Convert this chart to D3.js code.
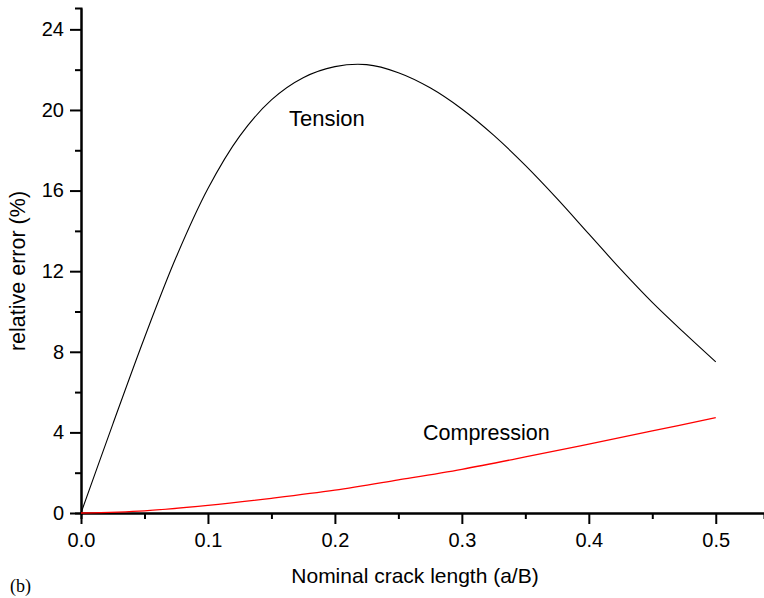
<!DOCTYPE html>
<html>
<head>
<meta charset="utf-8">
<script src="https://cdn.jsdelivr.net/npm/d3@7"></script>
<style>
  body { margin: 0; background: #fff; }
  text { font-family: "Liberation Sans", Arial, sans-serif; }
</style>
</head>
<body>
<div id="chart"></div>
<script>
// crack length a/B
const crackTension = [0, 0.025, 0.05, 0.075, 0.1, 0.125, 0.15, 0.175, 0.2, 0.225, 0.25,
                      0.275, 0.3, 0.325, 0.35, 0.375, 0.4, 0.425, 0.45, 0.475, 0.5];
const errTension = [0, 4.4, 8.7, 12.7, 16.1, 18.7, 20.5, 21.6, 22.15, 22.25, 21.85,
                    21.1, 20.05, 18.75, 17.25, 15.6, 13.85, 12.1, 10.45, 8.95, 7.5];

const crackCompression = [0, 0.05, 0.1, 0.15, 0.2, 0.25, 0.3, 0.35, 0.4, 0.45, 0.5];
const errCompression = [0, 0.11, 0.38, 0.73, 1.13, 1.64, 2.17, 2.78, 3.42, 4.07, 4.73];

const xMajor = [0, 0.1, 0.2, 0.3, 0.4, 0.5];
const xMinor = [0.05, 0.15, 0.25, 0.35, 0.45];
const yMajor = [0, 4, 8, 12, 16, 20, 24];
const yMinor = [2, 6, 10, 14, 18, 22];

const width = 764, height = 598;

const svg = d3.select("#chart")
              .append("svg")
              .attr("width", width)
              .attr("height", height);

const x = d3.scaleLinear()
            .domain([0, 0.538])
            .range([81, 764]);

const y = d3.scaleLinear()
            .domain([0, 25.06])
            .range([513, 8]);

// minor ticks first, no labels
svg.append("g")
   .attr("transform", `translate(0,${y(0)})`)
   .call(d3.axisBottom(x).tickValues(xMinor).tickSize(6).tickFormat(""));

svg.append("g")
   .attr("transform", `translate(${x(0)},0)`)
   .call(d3.axisLeft(y).tickValues(yMinor).tickSize(6).tickFormat(""));

svg.append("g")
   .attr("transform", `translate(0,${y(0)})`)
   .call(d3.axisBottom(x).tickValues(xMajor).tickSize(11).tickSizeOuter(0)
           .tickPadding(9).tickFormat(d3.format(".1f")));

svg.append("g")
   .attr("transform", `translate(${x(0)},0)`)
   .call(d3.axisLeft(y).tickValues(yMajor).tickSize(11).tickSizeOuter(0)
           .tickPadding(6).tickFormat(d3.format("d")));

svg.selectAll(".domain, .tick line")
   .attr("stroke", "#000")
   .attr("stroke-width", 2);

svg.selectAll(".tick text")
   .attr("fill", "#000")
   .style("font-size", "20px")
   .style("font-family", "'Liberation Sans', Arial, sans-serif");

// axis titles
svg.append("text")
   .attr("x", 415)
   .attr("y", 583)
   .attr("text-anchor", "middle")
   .style("font-size", "21px")
   .text("Nominal crack length (a/B)");

svg.append("text")
   .attr("transform", "translate(25,271) rotate(-90)")
   .attr("text-anchor", "middle")
   .style("font-size", "21.5px")
   .text("relative error (%)");

svg.append("text")
   .attr("x", 10)
   .attr("y", 592)
   .style("font-family", "'Liberation Serif', 'Times New Roman', serif")
   .style("font-size", "18px")
   .text("(b)");

// curves
const line = d3.line()
               .x(d => x(d[0]))
               .y(d => y(d[1]))
               .curve(d3.curveCatmullRom);

svg.append("path")
   .datum(d3.zip(crackTension, errTension))
   .attr("fill", "none")
   .attr("stroke", "#000")
   .attr("stroke-width", 1.1)
   .attr("d", line);

svg.append("path")
   .datum(d3.zip(crackCompression, errCompression))
   .attr("fill", "none")
   .attr("stroke", "#ff0000")
   .attr("stroke-width", 1.3)
   .attr("d", line);

// curve labels
svg.append("text")
   .attr("x", 289)
   .attr("y", 126)
   .style("font-size", "22px")
   .text("Tension");

svg.append("text")
   .attr("x", 423)
   .attr("y", 440)
   .style("font-size", "21.5px")
   .text("Compression");
</script>
</body>
</html>
